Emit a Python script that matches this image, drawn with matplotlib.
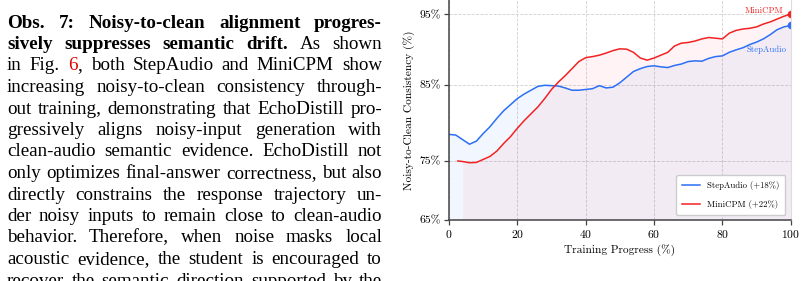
import numpy as np
import matplotlib
matplotlib.use("Agg")
import matplotlib.pyplot as plt
from matplotlib.transforms import IdentityTransform

# --- data ---
step_x = [0, 2, 4, 6, 8, 10, 12, 14, 16, 18, 20, 22, 24, 26, 28, 30, 32, 34, 36, 38, 40,
          42, 44, 46, 48, 50, 52, 54, 56, 58, 60, 62, 64, 66, 68, 70, 72, 74, 76, 78, 80,
          82, 84, 86, 88, 90, 92, 94, 96, 98, 100]
step_y = [78.5, 78.4, 77.8, 77.2, 77.6, 78.6, 79.5, 80.6, 81.6, 82.4, 83.2, 83.8, 84.3, 84.8,
          84.95, 84.9, 84.85, 84.6, 84.3, 84.3, 84.4, 84.5, 84.9, 84.6, 84.7, 85.3, 86.1,
          86.9, 87.3, 87.6, 87.7, 87.55, 87.45, 87.75, 87.95, 88.3, 88.4, 88.35, 88.75, 89.0,
          89.1, 89.6, 89.95, 90.25, 90.7, 91.05, 91.5, 92.1, 92.8, 93.2, 93.4]

mini_x = [2.6, 4, 6, 8, 10, 12, 14, 16, 18, 20, 22, 24, 26, 28, 30, 32, 34, 36, 38, 40,
          42, 44, 46, 48, 50, 52, 54, 56, 58, 60, 62, 64, 66, 68, 70, 72, 74, 76, 78, 80,
          82, 84, 86, 88, 90, 92, 94, 96, 98, 100]
mini_y = [75.0, 74.9, 74.7, 74.75, 75.2, 75.6, 76.3, 77.3, 78.2, 79.3, 80.3, 81.2, 82.1,
          83.2, 84.4, 85.4, 86.3, 87.3, 88.3, 88.85, 89.0, 89.2, 89.5, 89.85, 90.1, 90.05,
          89.6, 88.8, 88.5, 88.8, 89.2, 89.6, 90.5, 90.9, 91.0, 91.2, 91.5, 91.7, 91.6, 91.5,
          92.3, 92.7, 92.9, 93.0, 93.2, 93.6, 93.9, 94.3, 94.7, 95.0]

series_labels = ["StepAudio (+18%)", "MiniCPM (+22%)"]
end_labels = ["StepAudio", "MiniCPM"]
y_ticks = [65, 75, 85, 95]
x_ticks = [0, 20, 40, 60, 80, 100]

BLUE = "#2a6ff5"
RED = "#f22222"

# paragraph on the left, one entry per printed line
para = [
    [("Obs. 7: Noisy-to-clean alignment progres-", "b")],
    [("sively suppresses semantic drift.", "b"), (" As shown", "n")],
    [("in Fig. ", "n"), ("6", "r"), (", both StepAudio and MiniCPM show", "n")],
    [("increasing noisy-to-clean consistency through-", "n")],
    [("out training, demonstrating that EchoDistill pro-", "n")],
    [("gressively aligns noisy-input generation with", "n")],
    [("clean-audio semantic evidence. EchoDistill not", "n")],
    [("only optimizes final-answer correctness, but also", "n")],
    [("directly constrains the response trajectory un-", "n")],
    [("der noisy inputs to remain close to clean-audio", "n")],
    [("behavior. Therefore, when noise masks local", "n")],
    [("acoustic evidence, the student is encouraged to", "n")],
    [("recover the semantic direction supported by the", "n")],
]

W, H = 804, 281
fig = plt.figure(figsize=(W / 100, H / 100), dpi=100)
renderer = fig.canvas.get_renderer()


def split_words(segs):
    words, cur = [], []
    for text, st in segs:
        parts = text.split(" ")
        for k, p in enumerate(parts):
            if k > 0 and cur:
                words.append(cur)
                cur = []
            if p:
                cur.append((p, st))
    if cur:
        words.append(cur)
    return words


def put_line(segs, y_px, x0=7, x1=382, size=13.7):
    words = split_words(segs)
    placed = []
    total = 0
    for w in words:
        items = []
        ww = 0
        for chunk, st in w:
            t = fig.text(0, 0, chunk, transform=IdentityTransform(), va="baseline",
                         ha="left", fontsize=size, family="Liberation Serif",
                         fontweight="bold" if st == "b" else "normal",
                         color="#e00000" if st == "r" else "black")
            cw = t.get_window_extent(renderer).width
            items.append((t, cw))
            ww += cw
        placed.append(items)
        total += ww
    gap = (x1 - x0 - total) / max(len(words) - 1, 1)
    x = x0
    for items in placed:
        for t, cw in items:
            t.set_position((x, H - y_px))
            x += cw
        x += gap


for i, segs in enumerate(para):
    put_line(segs, 27.5 + 21.5 * i)

# --- chart ---
plt.rcParams["font.family"] = "cmr10"
plt.rcParams["mathtext.fontset"] = "cm"
plt.rcParams["axes.formatter.use_mathtext"] = True

ax = fig.add_axes([449 / W, 61 / H, (790.7 - 449) / W, 220 / H])

# the reference uses an uneven vertical scale; map tick values to the measured pixel heights
vals = [55, 65, 75, 85, 95, 105]
pos = [-59, 0, 59, 135, 205.7, 276.4]


def fwd(v):
    return np.interp(v, vals, pos)


def inv(p):
    return np.interp(p, pos, vals)


ax.set_yscale("function", functions=(fwd, inv))

sx, sy = np.array(step_x), np.array(step_y)
mx, my = np.array(mini_x), np.array(mini_y)

ax.fill_between(sx, sy, 65, color=BLUE, alpha=0.06, lw=0)
m = mx >= 4
ax.fill_between(mx[m], my[m], 65, color="#ff4060", alpha=0.06, lw=0)
ax.plot(sx, sy, color=BLUE, lw=1.1, label=series_labels[0])
ax.plot(mx, my, color=RED, lw=1.1, label=series_labels[1])
ax.plot(sx[-1], sy[-1], "o", color=BLUE, ms=4.5)
ax.plot(mx[-1], my[-1], "o", color=RED, ms=4.5)

ax.text(97.7, 95.5, end_labels[1], color=RED, fontsize=6.3, ha="right", va="center")
ax.text(98.9, 89.95, end_labels[0], color=BLUE, fontsize=6.3, ha="right", va="center")

ax.set_xlim(0, 100)
ax.set_ylim(65, 97)
ax.set_xticks(x_ticks)
ax.set_yticks(y_ticks)
ax.set_yticklabels([f"{v}%" for v in y_ticks])
ax.minorticks_off()
ax.tick_params(labelsize=8.4, length=3.5, width=0.9, color="#444444", pad=2.5)
ax.grid(True, ls="--", lw=0.6, color="#d0d0d0")
ax.set_axisbelow(True)
ax.spines["top"].set_visible(False)
ax.spines["right"].set_color("#dddddd")
ax.spines["right"].set_linewidth(0.8)
for s in ["left", "bottom"]:
    ax.spines[s].set_color("#444444")
    ax.spines[s].set_linewidth(1.1)

ax.set_xlabel("Training Progress (%)", fontsize=8.2, labelpad=3)
ax.set_ylabel("Noisy-to-Clean Consistency (%)", fontsize=8.2, labelpad=3)

ax.legend(loc="lower right", fontsize=6.3, frameon=True, fancybox=True,
          edgecolor="#cccccc", framealpha=1, borderaxespad=0.6, labelspacing=1.1,
          borderpad=0.7, handlelength=2.0)

fig.savefig("out.png", dpi=100)
